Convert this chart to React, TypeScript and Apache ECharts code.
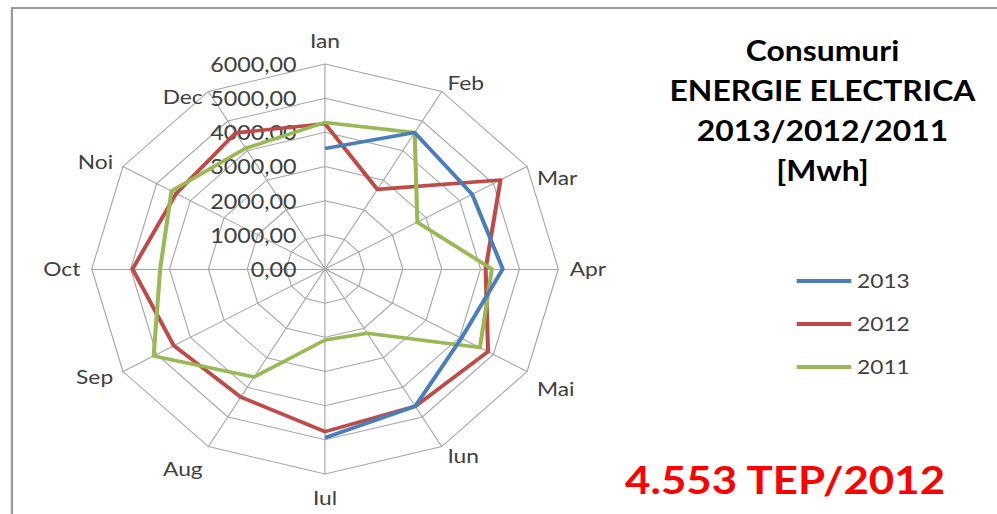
import React, { useEffect, useRef } from 'react';
import * as echarts from 'echarts';

const months = ['Ian', 'Feb', 'Mar', 'Apr', 'Mai', 'Iun', 'Iul', 'Aug', 'Sep', 'Oct', 'Noi', 'Dec'];
const values2013 = [3530, 4610, 4370, 4570, 4050, 4640, 4940];
const values2012 = [4250, 2690, 5210, 4130, 4840, 4640, 4760, 4330, 4490, 4950, 4420, 4600];
const values2011 = [4290, 4610, 2740, 4290, 4600, 2170, 2080, 3650, 5090, 4240, 4560, 4080];
const seriesNames = ['2013', '2012', '2011'];
const seriesColors = ['#4A7EBB', '#BE4B48', '#98B954'];
const axisMin = 0;
const axisMax = 6000;
const axisSplits = 6;
const titleLines = ['Consumuri', 'ENERGIE ELECTRICA', '2013/2012/2011', '[Mwh]'];
const noteText = '4.553 TEP/2012';

const W = 876;
const H = 514;
const SX = 997 / W;
const CX = 285.6;
const CY = 269;
const R = 205;
const FONT = 'Lato, Calibri, "Open Sans", sans-serif';
const GRID = '#a6a6a6';
const TEXT = '#404040';

// Excel-like placement nudges for a few month labels
const nameStyle: Record<string, any> = {
  Ian: { padding: [0, 0, 3, 0] },
  Mar: { verticalAlign: 'top', padding: [6, 0, 0, 0] },
  Mai: { verticalAlign: 'top', padding: [2, 0, 0, 0] },
  Iul: { padding: [4, 0, 0, 0] },
  Aug: { verticalAlign: 'top', padding: [3, 0, 0, 0] },
  Dec: { verticalAlign: 'top', padding: [4, 0, 0, 0] },
};

// radar indicators run counter-clockwise; reorder so months run clockwise
const order = months.map((_, k) => (k === 0 ? 0 : months.length - k));
const fmt = (v: number) => Number(v).toFixed(2).replace('.', ',');

export default function App() {
  const ref = useRef<HTMLDivElement>(null);
  useEffect(() => {
    if (!ref.current) return;
    const chart = echarts.init(ref.current, null, { renderer: 'svg', width: W, height: H });
    const indicators = order.map((i) => {
      const name = months[i];
      const ind: any = { name, min: axisMin, max: axisMax };
      if (nameStyle[name]) ind.nameTextStyle = { ...nameStyle[name] };
      if (i === 0) {
        ind.axisLabel = {
          show: true,
          margin: 25,
          fontSize: 20.5,
          color: TEXT,
          fontFamily: FONT,
          formatter: (v: number) => fmt(v),
        };
      }
      return ind;
    });
    chart.setOption({
      animation: false,
      backgroundColor: '#ffffff',
      radar: {
        center: [CX, CY],
        radius: R,
        startAngle: 90,
        shape: 'polygon',
        splitNumber: axisSplits,
        nameGap: 10,
        axisName: { color: TEXT, fontSize: 20, fontFamily: FONT, lineHeight: 20 },
        axisLine: { show: true, lineStyle: { color: GRID, width: 1 } },
        splitLine: { show: true, lineStyle: { color: GRID, width: 1 } },
        splitArea: { show: false },
        axisTick: { show: false },
        axisLabel: { show: false },
        indicator: indicators,
      },
      polar: { center: [CX, CY], radius: R },
      angleAxis: {
        type: 'value',
        min: 0,
        max: months.length,
        startAngle: 90,
        clockwise: true,
        show: false,
      },
      radiusAxis: { type: 'value', min: axisMin, max: axisMax, show: false },
      legend: {
        orient: 'vertical',
        left: 695,
        top: 266,
        itemWidth: 48,
        itemHeight: 4,
        itemGap: 23,
        icon: 'rect',
        textStyle: { fontSize: 20, color: TEXT, fontFamily: FONT, lineHeight: 20 },
        data: seriesNames,
      },
      graphic: [
        {
          type: 'rect',
          shape: { x: 10.5, y: 8, width: 3000, height: 3000 },
          style: { fill: 'none', stroke: '#9a9a9a', lineWidth: 2 },
          silent: true,
        },
        {
          type: 'text',
          style: {
            text: titleLines.join('\n'),
            x: 722.7,
            y: 30,
            textAlign: 'center',
            textVerticalAlign: 'top',
            fontSize: 28,
            fontWeight: 'bold',
            fontFamily: FONT,
            lineHeight: 40,
            fill: '#000000',
          },
        },
        {
          type: 'text',
          style: {
            text: noteText,
            x: 689.8,
            y: 479,
            textAlign: 'center',
            textVerticalAlign: 'middle',
            fontSize: 38.5,
            fontWeight: 'bold',
            fontFamily: FONT,
            fill: '#FF0000',
          },
        },
      ],
      series: [
        {
          name: seriesNames[0],
          type: 'line',
          coordinateSystem: 'polar',
          symbol: 'none',
          lineStyle: { width: 3.6, color: seriesColors[0] },
          itemStyle: { color: seriesColors[0] },
          data: values2013.map((v, i) => [v, i]),
        },
        {
          name: seriesNames[1],
          type: 'radar',
          symbol: 'none',
          lineStyle: { width: 3.6, color: seriesColors[1] },
          itemStyle: { color: seriesColors[1] },
          data: [{ name: seriesNames[1], value: order.map((i) => values2012[i]) }],
        },
        {
          name: seriesNames[2],
          type: 'radar',
          symbol: 'none',
          lineStyle: { width: 3.6, color: seriesColors[2] },
          itemStyle: { color: seriesColors[2] },
          data: [{ name: seriesNames[2], value: order.map((i) => values2011[i]) }],
        },
      ],
    });
    return () => chart.dispose();
  }, []);
  return (
    <div
      style={{
        position: 'fixed',
        left: 0,
        top: 0,
        width: 997,
        height: 514,
        overflow: 'hidden',
        background: '#fff',
      }}
    >
      <div
        ref={ref}
        style={{
          width: W,
          height: H,
          transform: `scaleX(${SX})`,
          transformOrigin: '0 0',
        }}
      />
    </div>
  );
}
